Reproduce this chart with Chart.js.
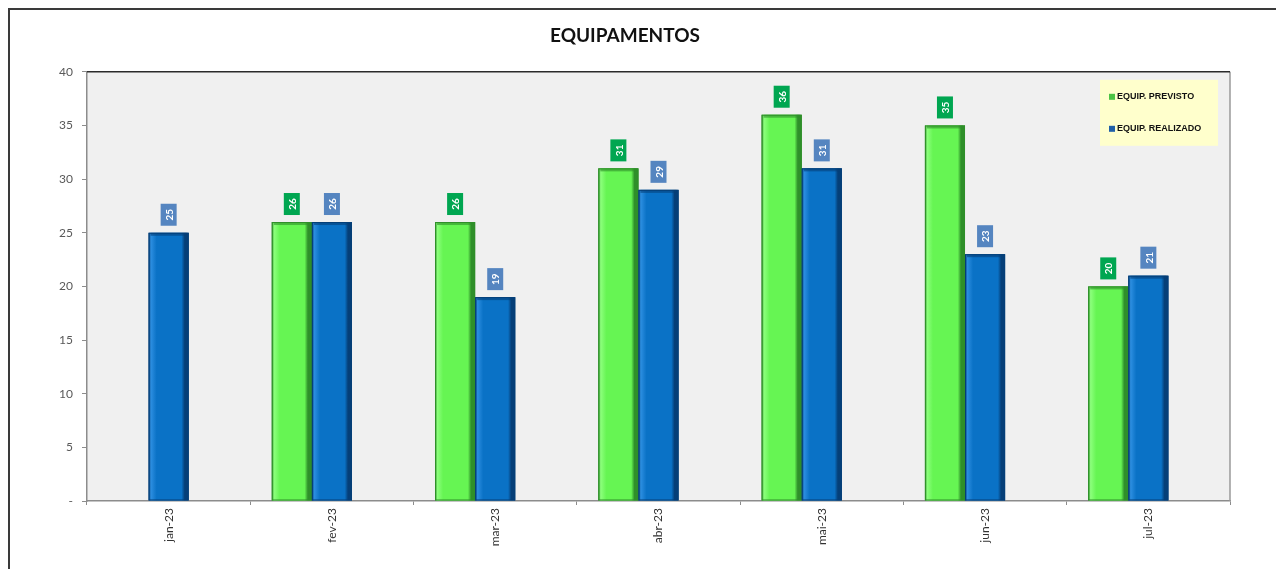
<!DOCTYPE html>
<html>
<head>
<meta charset="utf-8">
<script src="https://cdn.jsdelivr.net/npm/chart.js@4.4.0/dist/chart.umd.min.js"></script>
<style>
  html, body { margin: 0; padding: 0; background: #fff; }
  #wrap { width: 1276px; height: 569px; }
</style>
</head>
<body>
<div id="wrap"><canvas id="chart-equip"></canvas></div>
<script>
// dados do grafico
var meses = ['jan-23', 'fev-23', 'mar-23', 'abr-23', 'mai-23', 'jun-23', 'jul-23'];
var previsto = [null, 26, 26, 31, 36, 35, 20];
var realizado = [25, 26, 19, 29, 31, 23, 21];
// terceira serie vazia (ocupa a terceira posicao de cada grupo, como no original)
var vazio = [null, null, null, null, null, null, null];
var yTicks = [0, 5, 10, 15, 20, 25, 30, 35, 40];

var nomes = ['EQUIP. PREVISTO', 'EQUIP. REALIZADO'];
var faces = ['#66f553', '#0a72c6'];
var escuros = ['#2f8f2a', '#053f78'];
var claros = ['#8cff7c', '#2c8ee0'];
var caixas = ['#00a651', '#5585c0'];
var marcas = ['#4cc444', '#1f5fa8'];

var FONTE = 'Lato, "Liberation Sans", sans-serif';

// fundo, moldura e area do grafico
var molduraPlugin = {
  id: 'moldura',
  beforeDraw: function (chart) {
    var ctx = chart.ctx, a = chart.chartArea;
    ctx.save();
    ctx.fillStyle = '#fff';
    ctx.fillRect(0, 0, chart.width, chart.height);
    ctx.strokeStyle = '#3a3a3a';
    ctx.lineWidth = 2;
    ctx.beginPath();
    ctx.moveTo(9, chart.height);
    ctx.lineTo(9, 9);
    ctx.lineTo(chart.width, 9);
    ctx.stroke();
    ctx.fillStyle = '#f0f0f0';
    ctx.fillRect(a.left, a.top, a.right - a.left, a.bottom - a.top);
    ctx.restore();
  },
  afterDraw: function (chart) {
    var ctx = chart.ctx, a = chart.chartArea;
    ctx.save();
    ctx.strokeStyle = '#9a9a9a';
    ctx.lineWidth = 1.5;
    ctx.beginPath();
    ctx.moveTo(a.right, a.top);
    ctx.lineTo(a.right, a.bottom);
    ctx.stroke();
    ctx.strokeStyle = '#2b2b2b';
    ctx.lineWidth = 1.5;
    ctx.beginPath();
    ctx.moveTo(a.left, a.top);
    ctx.lineTo(a.right, a.top);
    ctx.stroke();
    ctx.restore();
  }
};

// efeito 3D nas barras (gradiente horizontal por cima da barra)
var relevoPlugin = {
  id: 'relevo',
  afterDatasetsDraw: function (chart) {
    var ctx = chart.ctx;
    ctx.save();
    [0, 1].forEach(function (d) {
      chart.getDatasetMeta(d).data.forEach(function (bar, i) {
        if (chart.data.datasets[d].data[i] == null) return;
        var x0 = bar.x - bar.width / 2, x1 = bar.x + bar.width / 2;
        var g = ctx.createLinearGradient(x0, 0, x1, 0);
        g.addColorStop(0, escuros[d]);
        g.addColorStop(0.06, claros[d]);
        g.addColorStop(0.2, faces[d]);
        g.addColorStop(0.82, faces[d]);
        g.addColorStop(0.9, escuros[d]);
        g.addColorStop(1, escuros[d]);
        ctx.fillStyle = g;
        ctx.fillRect(x0, bar.y, bar.width, bar.base - bar.y);
        // tampa superior
        ctx.fillStyle = escuros[d];
        ctx.globalAlpha = 0.6;
        ctx.fillRect(x0 + 2, bar.y, bar.width - 4, 3);
        ctx.globalAlpha = 1;
        ctx.strokeStyle = escuros[d];
        ctx.lineWidth = 1;
        ctx.strokeRect(x0 + 0.5, bar.y + 0.5, bar.width - 1, bar.base - bar.y - 1);
      });
    });
    ctx.restore();
  }
};

// rotulos de dados verticais em caixas coloridas
var rotulosPlugin = {
  id: 'rotulos',
  afterDatasetsDraw: function (chart) {
    var ctx = chart.ctx;
    ctx.save();
    [0, 1].forEach(function (d) {
      var valores = chart.data.datasets[d].data;
      chart.getDatasetMeta(d).data.forEach(function (bar, i) {
        if (valores[i] == null) return;
        var w = 16, h = 22;
        var cx = bar.x, cy = bar.y - 7 - h / 2;
        ctx.fillStyle = caixas[d];
        ctx.fillRect(cx - w / 2, cy - h / 2, w, h);
        ctx.translate(cx, cy);
        ctx.rotate(-Math.PI / 2);
        ctx.fillStyle = '#fff';
        ctx.font = 'bold 10px ' + FONTE;
        ctx.textAlign = 'center';
        ctx.textBaseline = 'middle';
        ctx.fillText(String(valores[i]), 0, 1);
        ctx.setTransform(1, 0, 0, 1, 0, 0);
      });
    });
    ctx.restore();
  }
};

// legenda dentro da area do grafico
var legendaPlugin = {
  id: 'legenda',
  afterDraw: function (chart) {
    var ctx = chart.ctx, a = chart.chartArea;
    var x = a.right - 130, y = a.top + 8;
    ctx.save();
    ctx.fillStyle = '#ffffcc';
    ctx.fillRect(x, y, 118, 66);
    ctx.font = 'bold 9px "Liberation Sans", sans-serif';
    ctx.textBaseline = 'middle';
    nomes.forEach(function (nome, k) {
      var ly = y + 17 + k * 32;
      ctx.fillStyle = marcas[k];
      ctx.fillRect(x + 9, ly - 3, 6, 6);
      ctx.fillStyle = '#111';
      ctx.fillText(nome, x + 17, ly);
    });
    ctx.restore();
  }
};

new Chart(document.getElementById('chart-equip'), {
  type: 'bar',
  data: {
    labels: meses,
    datasets: [
      {label: nomes[0], data: previsto, backgroundColor: faces[0], borderColor: escuros[0], borderWidth: 1},
      {label: nomes[1], data: realizado, backgroundColor: faces[1], borderColor: escuros[1], borderWidth: 1},
      {label: '', data: vazio, backgroundColor: 'rgba(0,0,0,0)'}
    ]
  },
  options: {
    responsive: true,
    maintainAspectRatio: false,
    animation: false,
    layout: {padding: {left: 20, right: 46, top: 0, bottom: 0}},
    datasets: {bar: {barPercentage: 1, categoryPercentage: 0.737}},
    plugins: {
      legend: {display: false},
      tooltip: {enabled: false},
      title: {
        display: true,
        text: 'EQUIPAMENTOS',
        color: '#111',
        font: {family: FONTE, size: 19, weight: 'bold'},
        padding: {top: 24, bottom: 25}
      }
    },
    scales: {
      x: {
        grid: {display: true, drawOnChartArea: false, drawTicks: true, tickLength: 4, color: '#8c8c8c', offset: true},
        border: {color: '#8c8c8c', width: 1.5},
        ticks: {
          minRotation: 90, maxRotation: 90, padding: 3,
          color: '#333', font: {family: FONTE, size: 12}
        },
        afterFit: function (s) { s.height = 68; }
      },
      y: {
        min: 0, max: 40,
        afterBuildTicks: function (s) { s.ticks = yTicks.map(function (v) { return {value: v}; }); },
        grid: {display: true, drawOnChartArea: false, drawTicks: true, tickLength: 5, color: '#8c8c8c'},
        border: {color: '#8c8c8c', width: 1.5},
        ticks: {
          padding: 9, color: '#595959', font: {family: FONTE, size: 12},
          callback: function (v) { return v === 0 ? '-' : v; }
        },
        afterFit: function (s) { s.width = 67; }
      }
    }
  },
  plugins: [molduraPlugin, relevoPlugin, rotulosPlugin, legendaPlugin]
});
</script>
</body>
</html>
